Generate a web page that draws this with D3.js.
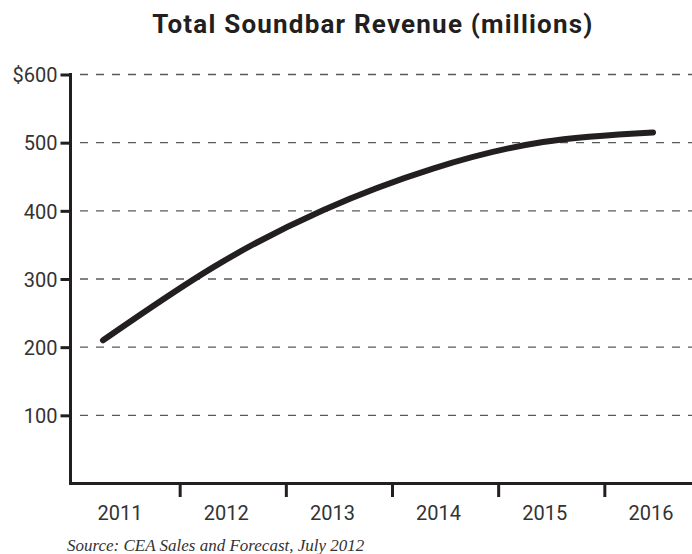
<!DOCTYPE html>
<html>
<head>
<meta charset="utf-8">
<script src="https://cdn.jsdelivr.net/npm/d3@7"></script>
<style>
  html, body { margin: 0; padding: 0; background: #fff; }
  svg { display: block; }
</style>
</head>
<body>
<svg id="chart" width="692" height="554"></svg>
<script>
// Soundbar revenue forecast, millions of US dollars
const years = [2011, 2012, 2013, 2014, 2015, 2016];
const revenue = [210, 317, 401, 462, 501, 515];
const yTicks = [100, 200, 300, 400, 500, 600];
const yTickLabels = ["100", "200", "300", "400", "500", "$600"];
const titleText = "Total Soundbar Revenue (millions)";
const sourceText = "Source: CEA Sales and Forecast, July 2012";

const ink = "#231f20";
const svg = d3.select("#chart");

const axisLeft = 70.5;
const plotBottom = 483.5;

const y = d3.scaleLinear().domain([0, 600]).range([plotBottom, 74.5]);

// Year bands along the bottom axis
const xBand = d3.scaleBand().domain(years).range([72, 709]).padding(0);
// Position of the trend curve across the years
const xLine = d3.scalePoint().domain(years).range([103, 653]);

// Title
svg.append("text")
  .attr("x", 373).attr("y", 33)
  .attr("text-anchor", "middle")
  .attr("font-family", "Roboto, 'Open Sans', sans-serif")
  .attr("font-weight", 700)
  .attr("font-size", 26)
  .attr("letter-spacing", 1.2)
  .attr("fill", ink)
  .text(titleText);

// Dashed gridlines
svg.append("g")
  .selectAll("line")
  .data(yTicks)
  .join("line")
  .attr("x1", axisLeft + 9.5).attr("x2", 692)
  .attr("y1", d => y(d)).attr("y2", d => y(d))
  .attr("stroke", "#5a5a5a")
  .attr("stroke-width", 1.4)
  .attr("stroke-dasharray", "8,8");

// Y axis
const yAxis = d3.axisLeft(y)
  .tickValues(yTicks)
  .tickSize(10)
  .tickPadding(3)
  .tickFormat((d, i) => yTickLabels[i]);

const gy = svg.append("g")
  .attr("transform", `translate(${axisLeft},0)`)
  .call(yAxis);
gy.select(".domain").remove();
gy.selectAll(".tick line").attr("stroke", ink).attr("stroke-width", 3);
gy.selectAll(".tick text")
  .attr("font-family", "Roboto, 'Open Sans', sans-serif")
  .attr("font-size", 20)
  .attr("fill", "#333")
  .attr("dy", "0.36em");
svg.append("line")
  .attr("x1", axisLeft).attr("x2", axisLeft)
  .attr("y1", y(600) - 1.5).attr("y2", plotBottom)
  .attr("stroke", ink).attr("stroke-width", 3);

// X axis: baseline, dividers between years, year labels
svg.append("line")
  .attr("x1", axisLeft - 1.5).attr("x2", 692)
  .attr("y1", plotBottom).attr("y2", plotBottom)
  .attr("stroke", ink).attr("stroke-width", 3);

svg.append("g")
  .selectAll("line")
  .data(years.slice(1))
  .join("line")
  .attr("x1", d => xBand(d) + 2).attr("x2", d => xBand(d) + 2)
  .attr("y1", plotBottom).attr("y2", plotBottom + 13.5)
  .attr("stroke", ink).attr("stroke-width", 3);

svg.append("g")
  .selectAll("text")
  .data(years)
  .join("text")
  .attr("x", d => xBand(d) + xBand.bandwidth() / 2 - 5)
  .attr("y", 520)
  .attr("text-anchor", "middle")
  .attr("font-family", "Roboto, 'Open Sans', sans-serif")
  .attr("font-size", 20)
  .attr("fill", "#333")
  .text(d => d);

// Revenue trend
const line = d3.line()
  .x((d, i) => xLine(years[i]))
  .y(d => y(d))
  .curve(d3.curveNatural);

svg.append("path")
  .datum(revenue)
  .attr("d", line)
  .attr("fill", "none")
  .attr("stroke", ink)
  .attr("stroke-width", 6)
  .attr("stroke-linecap", "round")
  .attr("stroke-linejoin", "round");

// Source note
svg.append("text")
  .attr("x", 67).attr("y", 551)
  .attr("font-family", "'Liberation Serif', 'DejaVu Serif', serif")
  .attr("font-style", "italic")
  .attr("font-size", 17)
  .attr("fill", "#333")
  .text(sourceText);
</script>
</body>
</html>
